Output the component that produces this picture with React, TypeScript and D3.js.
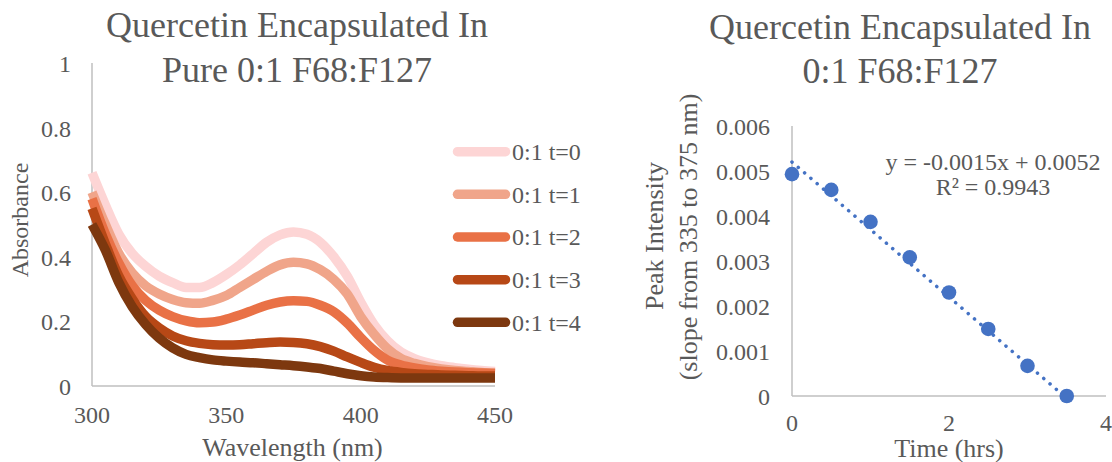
import React from "react";
import * as d3 from "d3";

// ---- Absorbance spectra (left panel) ----
const WAVELENGTHS = [
  300, 305, 310, 315, 320, 325, 330, 335, 340, 345, 350, 355, 360, 365, 370, 375,
  380, 385, 390, 395, 400, 405, 410, 415, 420, 425, 430, 435, 440, 445, 450,
];

const ABS_T0 = [
  0.66, 0.56, 0.47, 0.41, 0.37, 0.34, 0.32, 0.305, 0.305, 0.32, 0.345, 0.375, 0.41, 0.445, 0.468, 0.477,
  0.47, 0.445, 0.4, 0.34, 0.26, 0.19, 0.14, 0.105, 0.085, 0.072, 0.063, 0.057, 0.052, 0.048, 0.045,
];
const ABS_T1 = [
  0.6, 0.5, 0.41, 0.35, 0.31, 0.285, 0.268, 0.258, 0.256, 0.265, 0.28, 0.305, 0.33, 0.355, 0.375, 0.383,
  0.378, 0.36, 0.33, 0.285, 0.215, 0.16, 0.115, 0.085, 0.07, 0.06, 0.053, 0.048, 0.045, 0.042, 0.04,
];
const ABS_T2 = [
  0.58, 0.47, 0.38, 0.31, 0.265, 0.235, 0.215, 0.202, 0.196, 0.198, 0.207, 0.22, 0.235, 0.25, 0.26, 0.264,
  0.262, 0.25, 0.23, 0.195, 0.15, 0.11, 0.08, 0.065, 0.056, 0.05, 0.046, 0.043, 0.041, 0.04, 0.039,
];
const ABS_T3 = [
  0.55, 0.44, 0.34, 0.27, 0.215, 0.18, 0.155, 0.14, 0.132, 0.128, 0.127, 0.128, 0.131, 0.134, 0.136, 0.135,
  0.131, 0.122, 0.108, 0.09, 0.073, 0.058, 0.048, 0.042, 0.038, 0.036, 0.034, 0.033, 0.032, 0.031, 0.031,
];
const ABS_T4 = [
  0.5, 0.42, 0.32, 0.245, 0.19, 0.148, 0.118, 0.098, 0.088, 0.081, 0.077, 0.074, 0.072, 0.069, 0.066, 0.063,
  0.059, 0.054, 0.046, 0.038, 0.032, 0.028, 0.026, 0.025, 0.025, 0.025, 0.025, 0.025, 0.025, 0.025, 0.025,
];

const SERIES_LABELS = ["0:1 t=0", "0:1 t=1", "0:1 t=2", "0:1 t=3", "0:1 t=4"];
const SERIES_COLORS = ["#FDD5D5", "#F0A58A", "#E97146", "#B74816", "#7D380F"];
const SPECTRA = [ABS_T0, ABS_T1, ABS_T2, ABS_T3, ABS_T4];

const LEFT_X_TICKS = [300, 350, 400, 450];
const LEFT_Y_TICKS = [0, 0.2, 0.4, 0.6, 0.8, 1];
const LEFT_Y_TICK_LABELS = ["0", "0.2", "0.4", "0.6", "0.8", "1"];

// ---- Peak intensity over time (right panel) ----
const TIME_HRS = [0, 0.5, 1, 1.5, 2, 2.5, 3, 3.5];
const PEAK_INTENSITY = [0.00493, 0.00458, 0.00387, 0.00308, 0.0023, 0.00149, 0.00067, 0];
const TREND_SLOPE = -0.0015;
const TREND_INTERCEPT = 0.0052;
const TREND_R2 = "0.9943";

const RIGHT_X_TICKS = [0, 2, 4];
const RIGHT_Y_TICKS = [0, 0.001, 0.002, 0.003, 0.004, 0.005, 0.006];
const RIGHT_Y_TICK_LABELS = ["0", "0.001", "0.002", "0.003", "0.004", "0.005", "0.006"];

const TEXT = "#595959";
const AXIS = "#BFBFBF";
const FONT = "'Liberation Serif', 'Times New Roman', serif";
const MARKER = "#4472C4";

export default function App() {
  // left panel scales
  const xL = d3.scaleLinear().domain([300, 450]).range([92, 495]);
  const yL = d3.scaleLinear().domain([0, 1]).range([386, 63]);
  // right panel scales
  const xR = d3.scaleLinear().domain([0, 4]).range([792, 1106]);
  const yR = d3.scaleLinear().domain([0, 0.006]).range([396, 126]);

  const spectrumLine = (vals: number[]) =>
    d3
      .line<number>()
      .x((_, i) => xL(WAVELENGTHS[i]))
      .y((v) => yL(v))
      .curve(d3.curveMonotoneX)(vals) as string;

  const trendX0 = TIME_HRS[0];
  const trendX1 = TIME_HRS[TIME_HRS.length - 1];

  const legendY0 = 151.7;
  const legendStep = 42.65;

  return (
    <svg
      width={1112}
      height={462}
      style={{ position: "absolute", left: 0, top: 0, background: "#fff" }}
      fontFamily={FONT}
    >
      <rect x={0} y={0} width={1112} height={462} fill="#fff" />

      {/* ---------- Left panel ---------- */}
      <text x={297} y={36.7} textAnchor="middle" fontSize={36} fill={TEXT}>
        Quercetin Encapsulated In
      </text>
      <text x={297} y={81.7} textAnchor="middle" fontSize={36} fill={TEXT}>
        Pure 0:1 F68:F127
      </text>

      <line x1={xL(300)} x2={xL(300)} y1={yL(1)} y2={yL(0)} stroke={AXIS} strokeWidth={1.5} />
      <line x1={xL(300)} x2={xL(450)} y1={yL(0)} y2={yL(0)} stroke={AXIS} strokeWidth={1.5} />

      {LEFT_Y_TICKS.map((t, i) => (
        <text key={t} x={71} y={yL(t) + 9} textAnchor="end" fontSize={24} fill={TEXT}>
          {LEFT_Y_TICK_LABELS[i]}
        </text>
      ))}
      {LEFT_X_TICKS.map((t) => (
        <text key={t} x={xL(t)} y={423} textAnchor="middle" fontSize={24} fill={TEXT}>
          {t}
        </text>
      ))}

      <text
        transform="translate(28,220) rotate(-90)"
        textAnchor="middle"
        fontSize={24}
        fill={TEXT}
      >
        Absorbance
      </text>
      <text x={292.5} y={456} textAnchor="middle" fontSize={26} fill={TEXT}>
        Wavelength (nm)
      </text>

      {SPECTRA.map((vals, i) => (
        <path
          key={SERIES_LABELS[i]}
          d={spectrumLine(vals)}
          fill="none"
          stroke={SERIES_COLORS[i]}
          strokeWidth={9.5}
          strokeLinejoin="round"
          strokeLinecap="butt"
        />
      ))}

      {SERIES_LABELS.map((lab, i) => {
        const cy = legendY0 + i * legendStep;
        return (
          <g key={lab}>
            <line
              x1={457.5}
              x2={505.5}
              y1={cy}
              y2={cy}
              stroke={SERIES_COLORS[i]}
              strokeWidth={9.5}
              strokeLinecap="round"
            />
            <text x={512} y={cy + 8.3} fontSize={24} fill={TEXT}>
              {lab}
            </text>
          </g>
        );
      })}

      {/* ---------- Right panel ---------- */}
      <text x={900} y={39.3} textAnchor="middle" fontSize={36} fill={TEXT}>
        Quercetin Encapsulated In
      </text>
      <text x={900} y={83.3} textAnchor="middle" fontSize={36} fill={TEXT}>
        0:1 F68:F127
      </text>

      <line x1={xR(0)} x2={xR(0)} y1={yR(0.006)} y2={yR(0)} stroke={AXIS} strokeWidth={1.5} />
      <line x1={xR(0)} x2={xR(4)} y1={yR(0)} y2={yR(0)} stroke={AXIS} strokeWidth={1.5} />

      {RIGHT_Y_TICKS.map((t, i) => (
        <text key={t} x={770} y={yR(t) + 9} textAnchor="end" fontSize={24} fill={TEXT}>
          {RIGHT_Y_TICK_LABELS[i]}
        </text>
      ))}
      {RIGHT_X_TICKS.map((t) => (
        <text key={t} x={xR(t)} y={431} textAnchor="middle" fontSize={24} fill={TEXT}>
          {t}
        </text>
      ))}

      <text
        transform="translate(663,236) rotate(-90)"
        textAnchor="middle"
        fontSize={26}
        fill={TEXT}
      >
        Peak Intensity
      </text>
      <text
        transform="translate(697,237) rotate(-90)"
        textAnchor="middle"
        fontSize={26}
        fill={TEXT}
      >
        (slope from 335 to 375 nm)
      </text>
      <text x={949} y={456.5} textAnchor="middle" fontSize={26} fill={TEXT}>
        Time (hrs)
      </text>

      <line
        x1={xR(trendX0)}
        y1={yR(TREND_SLOPE * trendX0 + TREND_INTERCEPT)}
        x2={xR(trendX1)}
        y2={yR(TREND_SLOPE * trendX1 + TREND_INTERCEPT)}
        stroke={MARKER}
        strokeWidth={3.5}
        strokeDasharray="0.1 8.2"
        strokeLinecap="round"
      />

      {TIME_HRS.map((t, i) => (
        <circle key={t} cx={xR(t)} cy={yR(PEAK_INTENSITY[i])} r={7.3} fill={MARKER} />
      ))}

      <text x={993} y={170} textAnchor="middle" fontSize={24} fill={TEXT}>
        {`y = ${TREND_SLOPE.toFixed(4)}x + ${TREND_INTERCEPT.toFixed(4)}`}
      </text>
      <text x={993} y={195} textAnchor="middle" fontSize={24} fill={TEXT}>
        {`R² = ${TREND_R2}`}
      </text>
    </svg>
  );
}
